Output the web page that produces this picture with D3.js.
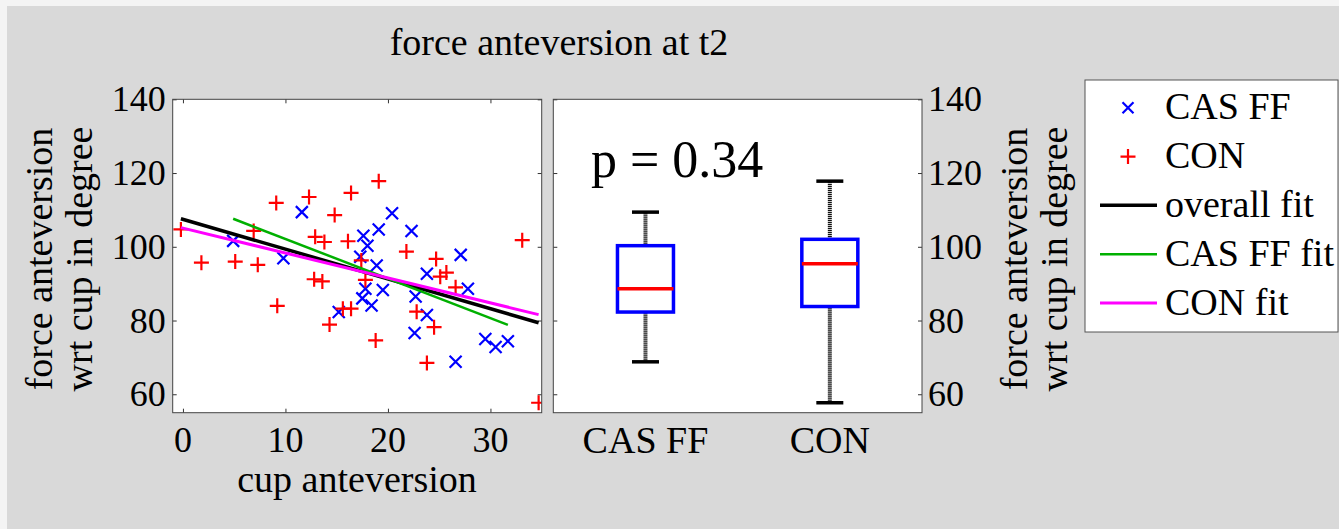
<!DOCTYPE html>
<html>
<head>
<meta charset="utf-8">
<script src="https://cdn.jsdelivr.net/npm/d3@7"></script>
<style>
  body { margin: 0; background: #f4f4f4; }
  svg { display: block; }
  text { font-family: "Liberation Serif", "Times New Roman", serif; fill: #000; }
</style>
</head>
<body>
<div id="chart"></div>
<script>
// CAS FF group (blue x)
const casX = [4.9, 11.6, 9.8, 15.2, 20.4, 19.1, 22.3, 17.6, 18.0, 17.3, 18.9, 23.8, 17.8,
  19.5, 17.5, 18.4, 22.7, 23.8, 27.1, 27.8, 22.6, 26.6, 29.5, 30.5, 31.7];
const casY = [101.6, 109.4, 96.9, 82.3, 109.1, 104.7, 104.3, 103.0, 100.3, 97.3, 94.9, 92.7, 88.6,
  88.3, 86.0, 84.1, 86.5, 81.5, 97.8, 88.6, 76.6, 68.8, 75.0, 72.8, 74.4];

// CON group (red +)
const conX = [-0.2, 1.8, 5.1, 7.3, 6.9, 9.1, 9.2, 12.3, 14.8, 12.9, 13.8, 12.8, 13.6, 16.1, 16.4, 14.3,
  15.6, 16.4, 19.1, 17.4, 17.8, 18.8, 21.8, 24.7, 25.1, 25.7, 26.6, 22.8, 24.5, 23.8, 33.1, 34.7];
const conY = [104.7, 95.7, 96.0, 95.1, 104.3, 111.9, 84.0, 113.5, 108.6, 102.7, 101.3, 91.2, 90.6, 101.5, 114.6, 78.9,
  83.2, 83.2, 117.8, 96.3, 91.0, 74.6, 98.7, 96.7, 91.9, 93.0, 89.0, 82.4, 78.2, 68.5, 101.8, 57.7];

// fitted lines, read as end points [x0, y0, x1, y1]
const overallFit = [-0.2, 107.6, 34.7, 79.4];
const casFit = [4.9, 107.6, 31.7, 78.8];
const conFit = [-0.2, 105.2, 34.7, 81.6];

const xTicks = [0, 10, 20, 30];
const yTicks = [60, 80, 100, 120, 140];
const groups = ["CAS FF", "CON"];
const pText = "p = 0.34";
const legendLabels = ["CAS FF", "CON", "overall fit", "CAS FF fit", "CON fit"];

const W = 1339, H = 529;
const serif = '"Liberation Serif", "Times New Roman", serif';

const svg = d3.select("#chart").append("svg")
  .attr("width", W).attr("height", H);

// figure background
svg.append("rect").attr("x", 7).attr("y", 6).attr("width", W - 7).attr("height", H - 6)
  .attr("fill", "#d9d9d9");

// panels
const sc = {left: 172.7, right: 541.7, top: 99.3, bottom: 412.7};
const bx = {left: 553.3, right: 922, top: 99.3, bottom: 412.7};

const x = d3.scaleLinear().domain([-1, 35]).range([sc.left, sc.right]);
const y = d3.scaleLinear().domain([55, 140]).range([sc.bottom, sc.top]);
const xb = d3.scaleLinear().domain([0.5, 2.5]).range([bx.left, bx.right]);

[sc, bx].forEach(p => {
  svg.append("rect")
    .attr("x", p.left).attr("y", p.top)
    .attr("width", p.right - p.left).attr("height", p.bottom - p.top)
    .attr("fill", "#fff");
});

const styleAxis = (g, size) => {
  g.select(".domain").remove();
  g.selectAll("line").attr("stroke", "#333");
  g.selectAll("text").attr("font-family", serif).attr("font-size", size).attr("fill", "#000");
  g.attr("font-family", null).attr("font-size", null);
};

// scatter axes (ticks point inwards)
svg.append("g").attr("transform", `translate(0,${sc.bottom})`)
  .call(d3.axisBottom(x).tickValues(xTicks).tickSize(-4).tickFormat(() => ""))
  .call(g => styleAxis(g, 36));
svg.append("g").attr("transform", `translate(0,${sc.top})`)
  .call(d3.axisTop(x).tickValues(xTicks).tickSize(-4).tickFormat(() => ""))
  .call(g => styleAxis(g, 36));
svg.append("g").attr("transform", `translate(${sc.left},0)`)
  .call(d3.axisLeft(y).tickValues(yTicks).tickSize(-4).tickPadding(7))
  .call(g => styleAxis(g, 36));
svg.append("g").attr("transform", `translate(${sc.right},0)`)
  .call(d3.axisRight(y).tickValues(yTicks).tickSize(-4).tickFormat(() => ""))
  .call(g => styleAxis(g, 36));

// x tick labels of the scatter panel
svg.append("g").selectAll("text").data(xTicks).enter()
  .append("text")
  .attr("x", d => x(d)).attr("y", 452)
  .attr("text-anchor", "middle").attr("font-size", 36)
  .text(d => d);

// box panel axes
svg.append("g").attr("transform", `translate(${bx.left},0)`)
  .call(d3.axisLeft(y).tickValues(yTicks).tickSize(-4).tickFormat(() => ""))
  .call(g => styleAxis(g, 36));
svg.append("g").attr("transform", `translate(${bx.right},0)`)
  .call(d3.axisRight(y).tickValues(yTicks).tickSize(-4).tickPadding(6))
  .call(g => styleAxis(g, 36));
svg.append("g").selectAll("text").data(groups).enter()
  .append("text")
  .attr("x", (d, i) => xb(i + 1)).attr("y", 453)
  .attr("text-anchor", "middle").attr("font-size", 38)
  .text(d => d);

// scatter markers
const plot = svg.append("g");
const xMark = "M-6,-6L6,6M-6,6L6,-6";
const plusMark = "M-7.5,0H7.5M0,-7.5V7.5";

plot.selectAll(".cas").data(d3.range(casX.length)).enter()
  .append("path").attr("class", "cas")
  .attr("d", xMark)
  .attr("transform", i => `translate(${x(casX[i])},${y(casY[i])})`)
  .attr("stroke", "#0000ff").attr("stroke-width", 2.2).attr("fill", "none");

plot.selectAll(".con").data(d3.range(conX.length)).enter()
  .append("path").attr("class", "con")
  .attr("d", plusMark)
  .attr("transform", i => `translate(${x(conX[i])},${y(conY[i])})`)
  .attr("stroke", "#ff0000").attr("stroke-width", 2.2).attr("fill", "none");

// fit lines
const fits = [
  {f: overallFit, color: "#000000", w: 3.5},
  {f: casFit, color: "#00b000", w: 2.5},
  {f: conFit, color: "#ff00ff", w: 3}
];
plot.selectAll(".fit").data(fits).enter()
  .append("line").attr("class", "fit")
  .attr("x1", d => x(d.f[0])).attr("y1", d => y(d.f[1]))
  .attr("x2", d => x(d.f[2])).attr("y2", d => y(d.f[3]))
  .attr("stroke", d => d.color).attr("stroke-width", d => d.w);

// clip markers that reach past the frame
plot.attr("clip-path", "url(#clipSc)");
svg.append("clipPath").attr("id", "clipSc").append("rect")
  .attr("x", sc.left).attr("y", sc.top)
  .attr("width", sc.right - sc.left).attr("height", sc.bottom - sc.top);

// box plots
const stats = [casY, conY].map(v => {
  const s = v.slice().sort(d3.ascending);
  return {
    min: d3.min(s), q1: d3.quantile(s, 0.25), med: d3.median(s),
    q3: d3.quantile(s, 0.75), max: d3.max(s)
  };
});

const boxW = 56, capW = 27;
const boxes = svg.append("g").selectAll("g").data(stats).enter().append("g");

boxes.each(function(d, i) {
  const g = d3.select(this);
  const cx = xb(i + 1);
  // whiskers
  [[d.q3, d.max], [d.min, d.q1]].forEach(([a, b]) => {
    g.append("line").attr("x1", cx).attr("x2", cx)
      .attr("y1", y(a)).attr("y2", y(b))
      .attr("stroke", "#111").attr("stroke-width", 4).attr("stroke-dasharray", "1.2,0.8");
  });
  [d.max, d.min].forEach(v => {
    g.append("line").attr("x1", cx - capW / 2).attr("x2", cx + capW / 2)
      .attr("y1", y(v)).attr("y2", y(v))
      .attr("stroke", "#000").attr("stroke-width", 3.5);
  });
  g.append("rect")
    .attr("x", cx - boxW / 2).attr("y", y(d.q3))
    .attr("width", boxW).attr("height", y(d.q1) - y(d.q3))
    .attr("fill", "none").attr("stroke", "#0000ff").attr("stroke-width", 3.5);
  g.append("line").attr("x1", cx - boxW / 2).attr("x2", cx + boxW / 2)
    .attr("y1", y(d.med)).attr("y2", y(d.med))
    .attr("stroke", "#ff0000").attr("stroke-width", 3.5);
});

// frames
[sc, bx].forEach(p => {
  svg.append("rect")
    .attr("x", p.left).attr("y", p.top)
    .attr("width", p.right - p.left).attr("height", p.bottom - p.top)
    .attr("fill", "none").attr("stroke", "#444").attr("stroke-width", 1);
});

// p value
svg.append("text").attr("x", 591).attr("y", 177).attr("font-size", 52).text(pText);

// title
svg.append("text").attr("x", 559).attr("y", 55).attr("text-anchor", "middle")
  .attr("font-size", 38).text("force anteversion at t2");

// x label
svg.append("text").attr("x", 357).attr("y", 492).attr("text-anchor", "middle")
  .attr("font-size", 38).text("cup anteversion");

// y labels (left and right)
const yLabel = (bx1, bx2) => {
  const cy = 259;
  [["force anteversion", bx1], ["wrt cup in degree", bx2]].forEach(([t, bxp]) => {
    svg.append("text")
      .attr("transform", `translate(${bxp},${cy}) rotate(-90)`)
      .attr("text-anchor", "middle").attr("font-size", 38).text(t);
  });
};
yLabel(52, 92);
yLabel(1027, 1067);

// legend
const lg = svg.append("g");
lg.append("rect").attr("x", 1085).attr("y", 80).attr("width", 253).attr("height", 252)
  .attr("fill", "#fff").attr("stroke", "#555").attr("stroke-width", 1);

const rowY = d3.scalePoint().domain(legendLabels).range([107.7, 303]);
const legendItems = [
  {type: "x", color: "#0000ff"},
  {type: "+", color: "#ff0000"},
  {type: "line", color: "#000000", w: 3.5},
  {type: "line", color: "#00b000", w: 2.5},
  {type: "line", color: "#ff00ff", w: 3}
];
legendLabels.forEach((lab, i) => {
  const cy = rowY(lab);
  const it = legendItems[i];
  if (it.type === "line") {
    lg.append("line").attr("x1", 1100).attr("x2", 1157).attr("y1", cy).attr("y2", cy)
      .attr("stroke", it.color).attr("stroke-width", it.w);
  } else {
    lg.append("path").attr("d", it.type === "x" ? "M-5.5,-5.5L5.5,5.5M-5.5,5.5L5.5,-5.5" : plusMark)
      .attr("transform", `translate(1128,${cy})`)
      .attr("stroke", it.color).attr("stroke-width", 2.2).attr("fill", "none");
  }
  lg.append("text").attr("x", 1165).attr("y", cy + 11.5).attr("font-size", 38).text(lab);
});
</script>
</body>
</html>
